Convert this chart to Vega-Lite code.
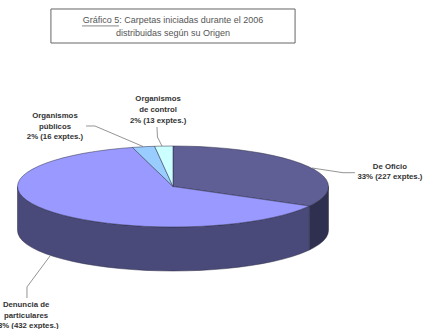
{
  "$schema": "https://vega.github.io/schema/vega-lite/v6.json",
  "width": 424,
  "height": 329,
  "padding": 0,
  "autosize": {"type": "none"},
  "background": "white",
  "config": {"view": {"stroke": null}},
  "datasets": {
    "origen": [
      {"origen": "De Oficio", "expedientes": 227},
      {"origen": "Denuncia de particulares", "expedientes": 432},
      {"origen": "Organismos públicos", "expedientes": 16},
      {"origen": "Organismos de control", "expedientes": 13}
    ],
    "lateral": [
      {"s": "Oficio lateral", "u": 1, "v": 0, "v2": -1.086},
      {"s": "Oficio lateral", "u": 0.996, "v": -0.087, "v2": -1.173},
      {"s": "Oficio lateral", "u": 0.985, "v": -0.174, "v2": -1.26},
      {"s": "Oficio lateral", "u": 0.966, "v": -0.259, "v2": -1.345},
      {"s": "Oficio lateral", "u": 0.94, "v": -0.342, "v2": -1.428},
      {"s": "Oficio lateral", "u": 0.906, "v": -0.423, "v2": -1.509},
      {"s": "Oficio lateral", "u": 0.877, "v": -0.482, "v2": -1.568},
      {"s": "Denuncia lateral", "u": 0.877, "v": -0.482, "v2": -1.568},
      {"s": "Denuncia lateral", "u": 0.866, "v": -0.5, "v2": -1.586},
      {"s": "Denuncia lateral", "u": 0.819, "v": -0.574, "v2": -1.66},
      {"s": "Denuncia lateral", "u": 0.766, "v": -0.643, "v2": -1.729},
      {"s": "Denuncia lateral", "u": 0.707, "v": -0.707, "v2": -1.793},
      {"s": "Denuncia lateral", "u": 0.643, "v": -0.766, "v2": -1.852},
      {"s": "Denuncia lateral", "u": 0.574, "v": -0.819, "v2": -1.905},
      {"s": "Denuncia lateral", "u": 0.5, "v": -0.866, "v2": -1.952},
      {"s": "Denuncia lateral", "u": 0.423, "v": -0.906, "v2": -1.992},
      {"s": "Denuncia lateral", "u": 0.342, "v": -0.94, "v2": -2.026},
      {"s": "Denuncia lateral", "u": 0.259, "v": -0.966, "v2": -2.052},
      {"s": "Denuncia lateral", "u": 0.174, "v": -0.985, "v2": -2.071},
      {"s": "Denuncia lateral", "u": 0.087, "v": -0.996, "v2": -2.082},
      {"s": "Denuncia lateral", "u": 0, "v": -1, "v2": -2.086},
      {"s": "Denuncia lateral", "u": -0.087, "v": -0.996, "v2": -2.082},
      {"s": "Denuncia lateral", "u": -0.174, "v": -0.985, "v2": -2.071},
      {"s": "Denuncia lateral", "u": -0.259, "v": -0.966, "v2": -2.052},
      {"s": "Denuncia lateral", "u": -0.342, "v": -0.94, "v2": -2.026},
      {"s": "Denuncia lateral", "u": -0.423, "v": -0.906, "v2": -1.992},
      {"s": "Denuncia lateral", "u": -0.5, "v": -0.866, "v2": -1.952},
      {"s": "Denuncia lateral", "u": -0.574, "v": -0.819, "v2": -1.905},
      {"s": "Denuncia lateral", "u": -0.643, "v": -0.766, "v2": -1.852},
      {"s": "Denuncia lateral", "u": -0.707, "v": -0.707, "v2": -1.793},
      {"s": "Denuncia lateral", "u": -0.766, "v": -0.643, "v2": -1.729},
      {"s": "Denuncia lateral", "u": -0.819, "v": -0.574, "v2": -1.66},
      {"s": "Denuncia lateral", "u": -0.866, "v": -0.5, "v2": -1.586},
      {"s": "Denuncia lateral", "u": -0.906, "v": -0.423, "v2": -1.509},
      {"s": "Denuncia lateral", "u": -0.94, "v": -0.342, "v2": -1.428},
      {"s": "Denuncia lateral", "u": -0.966, "v": -0.259, "v2": -1.345},
      {"s": "Denuncia lateral", "u": -0.985, "v": -0.174, "v2": -1.26},
      {"s": "Denuncia lateral", "u": -0.996, "v": -0.087, "v2": -1.173},
      {"s": "Denuncia lateral", "u": -1, "v": 0, "v2": -1.086}
    ],
    "sectores": [
      {"s": "De Oficio", "i": 0, "u": 0, "v": 0},
      {"s": "De Oficio", "i": 1, "u": 0, "v": 1},
      {"s": "De Oficio", "i": 2, "u": 0.087, "v": 0.996},
      {"s": "De Oficio", "i": 3, "u": 0.174, "v": 0.985},
      {"s": "De Oficio", "i": 4, "u": 0.259, "v": 0.966},
      {"s": "De Oficio", "i": 5, "u": 0.342, "v": 0.94},
      {"s": "De Oficio", "i": 6, "u": 0.423, "v": 0.906},
      {"s": "De Oficio", "i": 7, "u": 0.5, "v": 0.866},
      {"s": "De Oficio", "i": 8, "u": 0.574, "v": 0.819},
      {"s": "De Oficio", "i": 9, "u": 0.643, "v": 0.766},
      {"s": "De Oficio", "i": 10, "u": 0.707, "v": 0.707},
      {"s": "De Oficio", "i": 11, "u": 0.766, "v": 0.643},
      {"s": "De Oficio", "i": 12, "u": 0.819, "v": 0.574},
      {"s": "De Oficio", "i": 13, "u": 0.866, "v": 0.5},
      {"s": "De Oficio", "i": 14, "u": 0.906, "v": 0.423},
      {"s": "De Oficio", "i": 15, "u": 0.94, "v": 0.342},
      {"s": "De Oficio", "i": 16, "u": 0.966, "v": 0.259},
      {"s": "De Oficio", "i": 17, "u": 0.985, "v": 0.174},
      {"s": "De Oficio", "i": 18, "u": 0.996, "v": 0.087},
      {"s": "De Oficio", "i": 19, "u": 1, "v": 0},
      {"s": "De Oficio", "i": 20, "u": 0.996, "v": -0.087},
      {"s": "De Oficio", "i": 21, "u": 0.985, "v": -0.174},
      {"s": "De Oficio", "i": 22, "u": 0.966, "v": -0.259},
      {"s": "De Oficio", "i": 23, "u": 0.94, "v": -0.342},
      {"s": "De Oficio", "i": 24, "u": 0.906, "v": -0.423},
      {"s": "De Oficio", "i": 25, "u": 0.877, "v": -0.482},
      {"s": "Denuncia", "i": 0, "u": 0, "v": 0},
      {"s": "Denuncia", "i": 1, "u": 0.877, "v": -0.482},
      {"s": "Denuncia", "i": 2, "u": 0.866, "v": -0.5},
      {"s": "Denuncia", "i": 3, "u": 0.819, "v": -0.574},
      {"s": "Denuncia", "i": 4, "u": 0.766, "v": -0.643},
      {"s": "Denuncia", "i": 5, "u": 0.707, "v": -0.707},
      {"s": "Denuncia", "i": 6, "u": 0.643, "v": -0.766},
      {"s": "Denuncia", "i": 7, "u": 0.574, "v": -0.819},
      {"s": "Denuncia", "i": 8, "u": 0.5, "v": -0.866},
      {"s": "Denuncia", "i": 9, "u": 0.423, "v": -0.906},
      {"s": "Denuncia", "i": 10, "u": 0.342, "v": -0.94},
      {"s": "Denuncia", "i": 11, "u": 0.259, "v": -0.966},
      {"s": "Denuncia", "i": 12, "u": 0.174, "v": -0.985},
      {"s": "Denuncia", "i": 13, "u": 0.087, "v": -0.996},
      {"s": "Denuncia", "i": 14, "u": 0, "v": -1},
      {"s": "Denuncia", "i": 15, "u": -0.087, "v": -0.996},
      {"s": "Denuncia", "i": 16, "u": -0.174, "v": -0.985},
      {"s": "Denuncia", "i": 17, "u": -0.259, "v": -0.966},
      {"s": "Denuncia", "i": 18, "u": -0.342, "v": -0.94},
      {"s": "Denuncia", "i": 19, "u": -0.423, "v": -0.906},
      {"s": "Denuncia", "i": 20, "u": -0.5, "v": -0.866},
      {"s": "Denuncia", "i": 21, "u": -0.574, "v": -0.819},
      {"s": "Denuncia", "i": 22, "u": -0.643, "v": -0.766},
      {"s": "Denuncia", "i": 23, "u": -0.707, "v": -0.707},
      {"s": "Denuncia", "i": 24, "u": -0.766, "v": -0.643},
      {"s": "Denuncia", "i": 25, "u": -0.819, "v": -0.574},
      {"s": "Denuncia", "i": 26, "u": -0.866, "v": -0.5},
      {"s": "Denuncia", "i": 27, "u": -0.906, "v": -0.423},
      {"s": "Denuncia", "i": 28, "u": -0.94, "v": -0.342},
      {"s": "Denuncia", "i": 29, "u": -0.966, "v": -0.259},
      {"s": "Denuncia", "i": 30, "u": -0.985, "v": -0.174},
      {"s": "Denuncia", "i": 31, "u": -0.996, "v": -0.087},
      {"s": "Denuncia", "i": 32, "u": -1, "v": 0},
      {"s": "Denuncia", "i": 33, "u": -0.996, "v": 0.087},
      {"s": "Denuncia", "i": 34, "u": -0.985, "v": 0.174},
      {"s": "Denuncia", "i": 35, "u": -0.966, "v": 0.259},
      {"s": "Denuncia", "i": 36, "u": -0.94, "v": 0.342},
      {"s": "Denuncia", "i": 37, "u": -0.906, "v": 0.423},
      {"s": "Denuncia", "i": 38, "u": -0.866, "v": 0.5},
      {"s": "Denuncia", "i": 39, "u": -0.819, "v": 0.574},
      {"s": "Denuncia", "i": 40, "u": -0.766, "v": 0.643},
      {"s": "Denuncia", "i": 41, "u": -0.707, "v": 0.707},
      {"s": "Denuncia", "i": 42, "u": -0.643, "v": 0.766},
      {"s": "Denuncia", "i": 43, "u": -0.574, "v": 0.819},
      {"s": "Denuncia", "i": 44, "u": -0.5, "v": 0.866},
      {"s": "Denuncia", "i": 45, "u": -0.423, "v": 0.906},
      {"s": "Denuncia", "i": 46, "u": -0.342, "v": 0.94},
      {"s": "Denuncia", "i": 47, "u": -0.261, "v": 0.965},
      {"s": "Publicos", "i": 0, "u": 0, "v": 0},
      {"s": "Publicos", "i": 1, "u": -0.261, "v": 0.965},
      {"s": "Publicos", "i": 2, "u": -0.174, "v": 0.985},
      {"s": "Publicos", "i": 3, "u": -0.118, "v": 0.993},
      {"s": "Control", "i": 0, "u": 0, "v": 0},
      {"s": "Control", "i": 1, "u": -0.118, "v": 0.993},
      {"s": "Control", "i": 2, "u": -0.087, "v": 0.996},
      {"s": "Control", "i": 3, "u": 0, "v": 1}
    ],
    "guias": [
      {"g": "control", "i": 0, "u": -0.103, "v": 1.469},
      {"g": "control", "i": 1, "u": -0.1, "v": 1.222},
      {"g": "control", "i": 2, "u": -0.071, "v": 1.0},
      {"g": "publicos", "i": 0, "u": -0.559, "v": 1.494},
      {"g": "publicos", "i": 1, "u": -0.502, "v": 1.494},
      {"g": "publicos", "i": 2, "u": -0.193, "v": 0.988},
      {"g": "oficio", "i": 0, "u": 0.894, "v": 0.457},
      {"g": "oficio", "i": 1, "u": 1.093, "v": 0.341},
      {"g": "oficio", "i": 2, "u": 1.17, "v": 0.341},
      {"g": "denuncia", "i": 0, "u": -0.791, "v": -1.716},
      {"g": "denuncia", "i": 1, "u": -0.939, "v": -2.481},
      {"g": "denuncia", "i": 2, "u": -0.939, "v": -2.753}
    ],
    "rotulos": [
      {"t": "Organismos", "u": -0.096, "v": 2.16},
      {"t": "de control", "u": -0.096, "v": 1.889},
      {"t": "2% (13 exptes.)", "u": -0.096, "v": 1.617},
      {"t": "Organismos", "u": -0.759, "v": 1.741},
      {"t": "públicos", "u": -0.759, "v": 1.469},
      {"t": "2% (16 exptes.)", "u": -0.759, "v": 1.222},
      {"t": "De Oficio", "u": 1.395, "v": 0.481},
      {"t": "33% (227 exptes.)", "u": 1.395, "v": 0.235},
      {"t": "Denuncia de", "u": -0.945, "v": -2.926},
      {"t": "particulares", "u": -0.945, "v": -3.198},
      {"t": "63% (432 exptes.)", "u": -0.945, "v": -3.444}
    ]
  },
  "encoding": {
    "x": {"field": "u", "type": "quantitative", "axis": null, "scale": {"domain": [-1.1125, 1.6141], "nice": false, "zero": false}},
    "y": {"field": "v", "type": "quantitative", "axis": null, "scale": {"domain": [-3.5185, 4.605], "nice": false, "zero": false}}
  },
  "layer": [
    {
      "description": "Recuadro del título",
      "data": {"values": [{"u": -0.785, "u2": 0.785, "v": 4.383, "v2": 3.543}]},
      "mark": {"type": "rect", "fill": "white", "stroke": "#666666", "strokeWidth": 1},
      "encoding": {"x2": {"field": "u2"}, "y2": {"field": "v2"}}
    },
    {
      "data": {"values": [
        {"t": "Gráfico 5: Carpetas iniciadas durante el 2006", "u": 0, "v": 4.111},
        {"t": "distribuidas según su Origen", "u": 0, "v": 3.79}
      ]},
      "mark": {"type": "text", "font": "Liberation Sans", "fontSize": 9, "color": "#555555", "align": "center", "baseline": "middle"},
      "encoding": {"text": {"field": "t"}}
    },
    {
      "description": "Subrayado de 'Gráfico 5'",
      "data": {"values": [{"u": -0.585, "v": 3.965, "u2": -0.347}]},
      "mark": {"type": "rule", "color": "#555555", "strokeWidth": 0.7},
      "encoding": {"x2": {"field": "u2"}}
    },
    {
      "description": "Pared lateral de la torta",
      "data": {"name": "lateral"},
      "mark": {"type": "area", "stroke": "#2a2a45", "strokeWidth": 0.5},
      "encoding": {
        "y2": {"field": "v2"},
        "fill": {"field": "s", "legend": null, "scale": {
          "domain": ["Oficio lateral", "Denuncia lateral", "De Oficio", "Denuncia", "Publicos", "Control"],
          "range": ["#2f2f50", "#4a4a7a", "#5f5f96", "#9999ff", "#99ccff", "#ccffff"]
        }}
      }
    },
    {
      "description": "Cara superior de la torta",
      "data": {"name": "sectores"},
      "mark": {"type": "line", "interpolate": "linear-closed", "stroke": "#2a2a45", "strokeWidth": 0.5},
      "encoding": {
        "order": {"field": "i", "type": "quantitative"},
        "fill": {"field": "s", "legend": null}
      }
    },
    {
      "description": "Líneas guía de los rótulos",
      "data": {"name": "guias"},
      "mark": {"type": "line", "color": "#666666", "strokeWidth": 0.7},
      "encoding": {
        "order": {"field": "i", "type": "quantitative"},
        "detail": {"field": "g"}
      }
    },
    {
      "data": {"name": "rotulos"},
      "mark": {"type": "text", "font": "Liberation Sans", "fontWeight": "bold", "fontSize": 7.8, "color": "#333333", "align": "center", "baseline": "middle"},
      "encoding": {"text": {"field": "t"}}
    }
  ]
}
